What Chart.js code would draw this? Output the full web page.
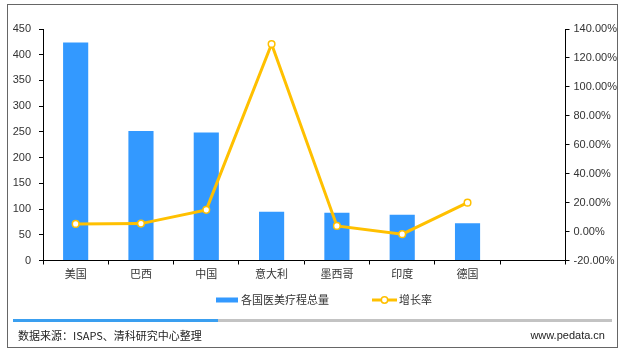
<!DOCTYPE html>
<html>
<head>
<meta charset="utf-8">
<script src="https://cdn.jsdelivr.net/npm/chart.js@4/dist/chart.umd.min.js"></script>
<style>
    body { margin: 0; background: #fff; }
    #wrap { position: relative; width: 622px; height: 354px; font-family: "Noto Sans CJK SC", sans-serif; }
    #frame { position: absolute; left: 7px; top: 4px; width: 609px; height: 342px; border: 1px solid #666; }
    #chart { position: absolute; left: 0; top: 0; }
    .bar { position: absolute; top: 319px; height: 3px; }
    #bar-blue { left: 13px; width: 205px; background: #3a9ff0; }
    #bar-gray { left: 218px; width: 394px; background: #c3c3c3; }
    .foot { position: absolute; top: 328px; font-size: 11px; line-height: 15px; color: #222; }
    #source { left: 18px; }
    #site { right: 17px; font-family: "Liberation Sans", Arial, sans-serif; }
</style>
</head>
<body>
<div id="wrap">
    <div id="frame"></div>
    <canvas id="chart" width="622" height="354"></canvas>
    <div class="bar" id="bar-blue"></div>
    <div class="bar" id="bar-gray"></div>
    <div class="foot" id="source">数据来源：ISAPS、清科研究中心整理</div>
    <div class="foot" id="site">www.pedata.cn</div>
</div>
<script>
// --- data ---
const countries = ['美国', '巴西', '中国', '意大利', '墨西哥', '印度', '德国', ''];
const totalVolume = [424, 251.5, 249, 95, 93, 89, 72.5, null];   // 各国医美疗程总量
const growthRate = [5.3, 5.5, 15, 129.6, 3.9, -1.8, 20, null];    // 增长率 (%)
const leftTicks = [0, 50, 100, 150, 200, 250, 300, 350, 400, 450];
const rightTicks = [-20, 0, 20, 40, 60, 80, 100, 120, 140];

const BLUE = '#3399ff';
const GOLD = '#ffc000';
const TEXT = '#333';
const latin = '"Liberation Sans", Arial, sans-serif';
const cjk = '"Noto Sans CJK SC", sans-serif';

// legend drawn by hand so it sits where the original one does
const legendPlugin = {
    id: 'customLegend',
    afterDraw(chart) {
        const ctx = chart.ctx;
        const bar = chart.data.datasets[0];
        const line = chart.data.datasets[1];
        const y = 300;
        ctx.save();
        ctx.fillStyle = bar.backgroundColor;
        ctx.fillRect(216, y - 2.5, 22, 5);

        ctx.strokeStyle = line.borderColor;
        ctx.lineWidth = 3;
        ctx.beginPath();
        ctx.moveTo(372, y);
        ctx.lineTo(397, y);
        ctx.stroke();
        ctx.beginPath();
        ctx.arc(384.5, y, 3.2, 0, Math.PI * 2);
        ctx.fillStyle = '#fff';
        ctx.fill();
        ctx.lineWidth = 1.5;
        ctx.stroke();

        ctx.fillStyle = TEXT;
        ctx.font = '11px ' + cjk;
        ctx.textBaseline = 'middle';
        ctx.fillText(bar.label, 241, y);
        ctx.fillText(line.label, 399, y);
        ctx.restore();
    }
};

const ctx = document.getElementById('chart').getContext('2d');
new Chart(ctx, {
    type: 'bar',
    data: {
        labels: countries,
        datasets: [{
            label: '各国医美疗程总量',
            data: totalVolume,
            backgroundColor: BLUE,
            barPercentage: 0.385,
            categoryPercentage: 1,
            yAxisID: 'y',
            order: 1
        }, {
            type: 'line',
            label: '增长率',
            data: growthRate,
            borderColor: GOLD,
            borderWidth: 3,
            pointRadius: 3.3,
            pointBackgroundColor: '#fff',
            pointBorderColor: GOLD,
            pointBorderWidth: 1.5,
            tension: 0,
            yAxisID: 'y1',
            order: 0
        }]
    },
    options: {
        responsive: false,
        animation: false,
        layout: { padding: { top: 29, bottom: 0, left: 0, right: 0 } },
        plugins: {
            legend: { display: false },
            tooltip: { enabled: false }
        },
        scales: {
            x: {
                offset: true,
                grid: { drawOnChartArea: false, color: '#000', tickLength: 4, offset: true },
                border: { color: '#000' },
                ticks: { color: TEXT, font: { family: cjk, size: 11 }, padding: 3, maxRotation: 0 },
                afterFit: (scale) => { scale.height = 93.5; }
            },
            y: {
                position: 'left',
                min: 0,
                max: 450,
                grid: { drawOnChartArea: false, color: '#000', tickLength: 4 },
                border: { color: '#000' },
                afterBuildTicks: (scale) => { scale.ticks = leftTicks.map(v => ({ value: v })); },
                ticks: { color: TEXT, font: { family: latin, size: 11 }, padding: 8 },
                afterFit: (scale) => { scale.width = 43; }
            },
            y1: {
                position: 'right',
                min: -20,
                max: 140,
                grid: { drawOnChartArea: false, color: '#000', tickLength: 4 },
                border: { color: '#000' },
                afterBuildTicks: (scale) => { scale.ticks = rightTicks.map(v => ({ value: v })); },
                ticks: {
                    color: TEXT,
                    font: { family: latin, size: 11 },
                    padding: 4,
                    callback: (v) => v.toFixed(2) + '%'
                },
                afterFit: (scale) => { scale.width = 56.5; }
            }
        }
    },
    plugins: [legendPlugin]
});
</script>
</body>
</html>
